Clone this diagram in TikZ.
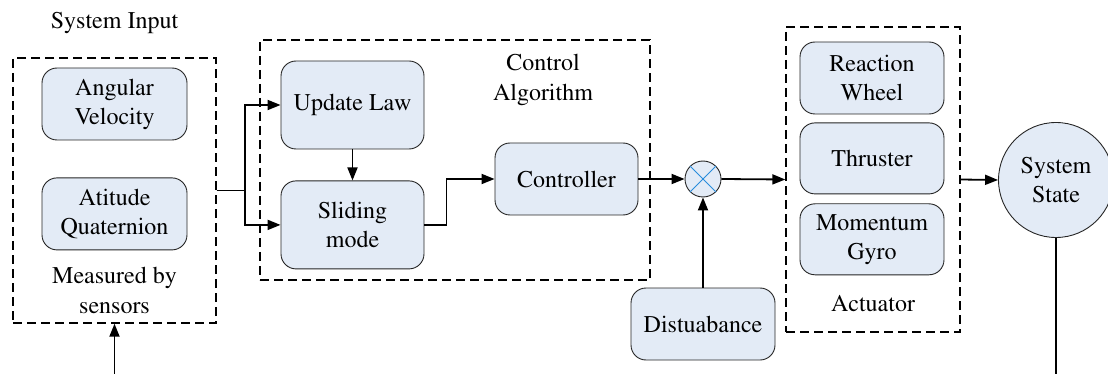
\documentclass[tikz,border=0pt]{standalone}
\usepackage[T1]{fontenc}
\renewcommand{\rmdefault}{ptm}
\usetikzlibrary{positioning,arrows.meta}
\definecolor{boxfill}{RGB}{227,235,246}
\definecolor{crossblue}{RGB}{40,140,220}

\begin{document}
\begin{tikzpicture}[x=1pt, y=-1pt,
    blocknode/.style={rectangle, rounded corners=15pt, draw=black!85, fill=boxfill, line width=0.9pt, minimum width=144pt, minimum height=72pt, inner sep=0pt, align=center, font=\rmfamily\fontsize{24}{29}\selectfont},
    groupnode/.style={rectangle, draw, line width=1.4pt, dash pattern=on 9pt off 5pt, inner sep=0pt},
    labelnode/.style={align=center, font=\rmfamily\fontsize{24}{30}\selectfont},
    arrowline/.style={-{Triangle[length=13pt,width=10pt]}, line width=1.8pt}]

        \useasboundingbox (0,0) rectangle (1108,374);

        % dashed groups
        \node[groupnode, minimum width=203pt, minimum height=265pt] (sens) at (114.5,190.5) {};
        \node[groupnode, minimum width=390pt, minimum height=240pt] (ctrl) at (455,160) {};
        \node[groupnode, minimum width=174pt, minimum height=305pt] (act) at (873,179.5) {};

        % sensors
        \node[labelnode] (inlbl) at (114.5,23) {System Input};
        \node[blocknode, minimum width=145pt] (angv) at (114.5,104) {Angular\\Velocity};
        \node[blocknode, minimum width=145pt] (quat) [below=37pt of angv] {Atitude\\Quaternion};
        \node[labelnode] (meas) at (114.5,290) {Measured by\\sensors};

        % control algorithm
        \node[blocknode, minimum width=143pt, minimum height=88pt] (upd) at (352.5,105) {Update Law};
        \node[blocknode, minimum width=143pt, minimum height=88pt] (sld) [below=31pt of upd] {Sliding\\mode};
        \node[labelnode] (ctrllbl) at (543,80) {Control\\Algorithm};
        \node[blocknode, minimum width=143pt] (ctl) at (566.5,179) {Controller};

        % summing point and disturbance
        \node[circle, draw=black!85, fill=boxfill, line width=0.9pt, minimum size=36pt, inner sep=0pt] (sum) at (703,179) {};
        \draw[crossblue, line width=1pt] (sum.north west) -- (sum.south east);
        \draw[crossblue, line width=1pt] (sum.north east) -- (sum.south west);
        \node[blocknode] (dst) at (703,324) {Distuabance};

        % actuator
        \node[blocknode] (rw) at (872,78) {Reaction\\Wheel};
        \node[blocknode, minimum height=71pt] (thr) [below=8pt of rw] {Thruster};
        \node[blocknode, minimum height=71pt] (gyro) [below=9pt of thr] {Momentum\\Gyro};
        \node[labelnode] (actlbl) at (873,303) {Actuator};

        % system state
        \node[circle, draw=black!85, fill=boxfill, line width=0.9pt, minimum size=115pt, inner sep=0pt, align=center, font=\rmfamily\fontsize{24}{29}\selectfont] (st) at (1056,180) {System\\State};

        % loop ends at the bottom edge
        \coordinate (fbout) at (1056,374);
        \coordinate (fbin) at (114.5,374);

        % connectors
        \draw[arrowline] (sens.east) -- ++(28,0) |- (upd.west);
        \draw[arrowline] (sens.east) -- ++(28,0) |- (sld.west);
        \draw[arrowline] (upd.south) -- (sld.north);
        \draw[arrowline] (sld.east) -- ++(22,0) |- (ctl.west);
        \draw[arrowline] (ctl.east) -- (sum.west);
        \draw[arrowline] (dst.north) -- (sum.south);
        \draw[arrowline] (sum.east) -- (act.west);
        \draw[arrowline] (act.east) -- (st.west);
        \draw[line width=1.8pt] (st.south) -- (fbout);
        \draw[arrowline] (fbin) -- (sens.south);

\end{tikzpicture}
\end{document}
